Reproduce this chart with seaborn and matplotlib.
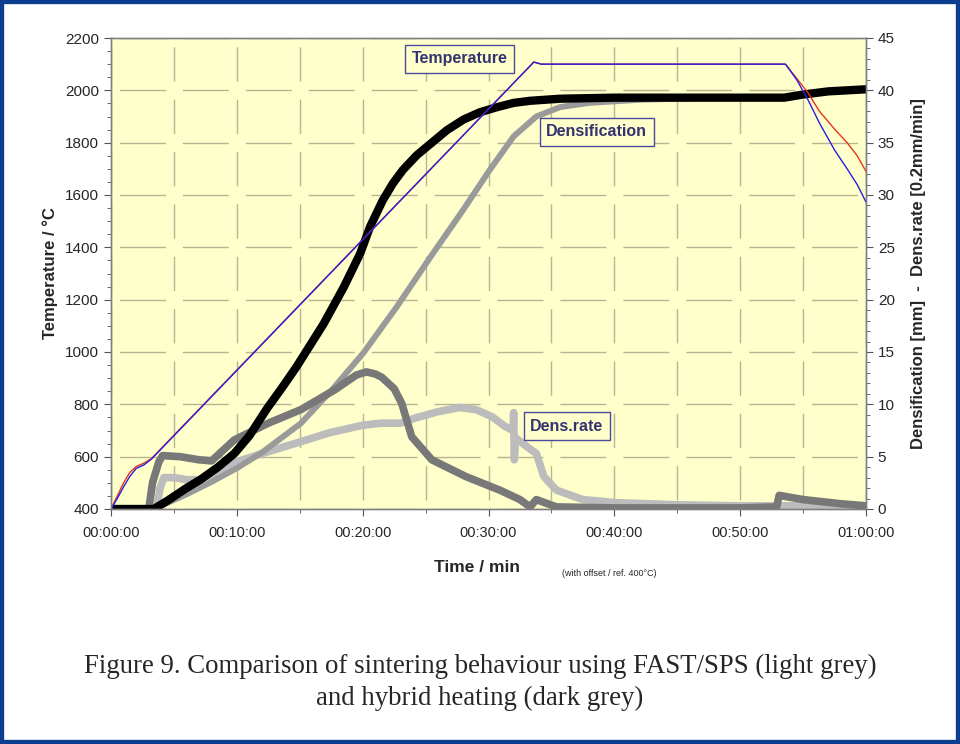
import numpy as np
import matplotlib
matplotlib.use("Agg")
from matplotlib import pyplot as plt
from matplotlib.patches import Rectangle
from matplotlib.ticker import MultipleLocator
import seaborn as sns

# time in minutes (with offset / ref. 400 C)
t_temp = [0, 0.5, 1, 1.5, 2, 2.6, 3.2, 33.6, 34.2, 53.6, 54.5, 55.4, 56.3, 57.5, 58.5, 59.3, 60]
temp_hybrid = [400, 440, 485, 525, 555, 568, 590, 2108, 2100, 2100, 2040, 1963, 1875, 1772, 1700, 1640, 1573]
temp_fast = [400, 450, 500, 540, 562, 575, 592, 2108, 2100, 2100, 2045, 1990, 1920, 1852, 1800, 1750, 1690]

# densification [mm]
t_dens_hybrid = [0, 3.4, 4.5, 6, 7.1, 8.5, 9.8, 11, 12.4, 13.6, 14.75, 15.8, 16.9, 18.5, 19.8, 20.6,
                 21.6, 22.4, 23.2, 24.3, 25.4, 26.7, 28.0, 29.3, 30.7, 32, 33.3, 35.7, 40, 45, 50,
                 53.5, 55, 57, 60]
dens_hybrid = [0, 0, 0.8, 2.0, 2.8, 4.0, 5.3, 7.0, 9.6, 11.6, 13.6, 15.6, 17.7, 21.2, 24.4, 27.0,
               29.5, 31.1, 32.4, 33.8, 34.9, 36.2, 37.2, 37.9, 38.4, 38.8, 39.0, 39.2, 39.3, 39.3, 39.3,
               39.3, 39.6, 39.9, 40.1]
t_dens_fast = [0, 3.5, 4.5, 6, 8, 10, 12, 15.1, 17.5, 20.05, 22.7, 25.4, 28.0, 30.1, 32.0, 33.8,
               35.7, 38, 42, 48, 53.5, 55, 57, 60]
dens_fast = [0, 0, 0.6, 1.4, 2.6, 3.9, 5.4, 8.2, 11.3, 14.9, 19.3, 24.1, 28.6, 32.4, 35.6, 37.5,
             38.4, 38.8, 39.1, 39.3, 39.3, 39.6, 39.9, 40.1]

# densification rate [0.2mm/min]
t_rate_hybrid = [0, 3.0, 3.3, 3.8, 4.1, 5.5, 7.0, 8.0, 9.8, 12.5, 15.1, 17.8, 19.5, 20.3, 21.0, 21.5,
                 22.5, 23.1, 23.9, 25.5, 28.2, 30.9, 32.5, 33.3, 33.8, 35.4, 40, 45, 50, 52.9, 53.1,
                 55, 58, 60]
rate_hybrid = [0, 0, 2.5, 4.5, 5.1, 5.0, 4.7, 4.6, 6.6, 8.2, 9.5, 11.4, 12.8, 13.1, 12.9, 12.6,
               11.5, 10.1, 6.9, 4.7, 3.1, 1.8, 0.9, 0.2, 0.9, 0.2, 0.1, 0.1, 0.1, 0.2, 1.3,
               0.9, 0.5, 0.3]
t_rate_fast = [0, 3.6, 3.9, 4.2, 5, 6, 7.1, 8.5, 9.7, 12, 15, 17.4, 20, 21.5, 23, 24.2, 26, 27.7,
               29, 30.3, 31.3, 31.95, 32.0, 32.05, 32.15, 33, 33.8, 34.4, 35.4, 37.5, 40.2, 45, 50, 60]
rate_fast = [0, 0, 2.0, 3.0, 3.0, 2.8, 2.8, 3.6, 4.4, 5.3, 6.4, 7.3, 8.0, 8.2, 8.2, 8.7, 9.3, 9.7,
             9.5, 8.8, 7.9, 7.5, 9.2, 4.7, 6.8, 6.0, 5.3, 3.1, 1.8, 0.9, 0.6, 0.4, 0.3, 0.3]

x_ticks = [0, 10, 20, 30, 40, 50, 60]
x_ticklabels = ["00:00:00", "00:10:00", "00:20:00", "00:30:00", "00:40:00", "00:50:00", "01:00:00"]

sns.set_style("white")
plt.rcParams['font.family'] = ['Liberation Sans', 'DejaVu Sans']

fig = plt.figure(figsize=(9.6, 7.44), dpi=100)
ax = fig.add_axes([111 / 960, 1 - 509 / 744, 755 / 960, 471 / 744])
ax2 = ax.twinx()

# right axes sits below and carries the yellow background + grid
ax.set_zorder(2)
ax.patch.set_visible(False)
ax2.set_zorder(1)
ax2.patch.set_visible(True)
ax2.patch.set_facecolor('#ffffcc')

# rates and densification (right axis)
sns.lineplot(x=t_rate_fast, y=rate_fast, ax=ax2, color='#bcbcbc', linewidth=5.5, legend=False)
sns.lineplot(x=t_dens_fast, y=dens_fast, ax=ax2, color='#9a9a9a', linewidth=4.3, legend=False)
sns.lineplot(x=t_rate_hybrid, y=rate_hybrid, ax=ax2, color='#787878', linewidth=5.5, legend=False)
sns.lineplot(x=t_dens_hybrid, y=dens_hybrid, ax=ax2, color='black', linewidth=6, legend=False)

# temperatures (left axis)
sns.lineplot(x=t_temp, y=temp_fast, ax=ax, color='#e8321e', linewidth=1, legend=False)
sns.lineplot(x=t_temp, y=temp_hybrid, ax=ax, color='#2a1ee0', linewidth=1, legend=False)

ax.set_xlim(0, 60)
ax.set_ylim(400, 2200)
ax2.set_ylim(0, 45)

ax.xaxis.set_major_locator(MultipleLocator(10))
ax.xaxis.set_minor_locator(MultipleLocator(5))
ax.set_xticks(x_ticks)
ax.set_xticklabels(x_ticklabels)
ax.yaxis.set_major_locator(MultipleLocator(200))
ax.yaxis.set_minor_locator(MultipleLocator(50))
ax2.yaxis.set_major_locator(MultipleLocator(5))
ax2.yaxis.set_minor_locator(MultipleLocator(1))

# dashed grid, gaps at the crossings
grid_col = '#bab391'
ax2.xaxis.set_visible(True)
ax2.tick_params(axis='x', which='both', bottom=False, top=False, labelbottom=False, labeltop=False)
ax2.grid(True, axis='y', which='major', color=grid_col, linewidth=1, linestyle=(39.2, (33.1, 12.2)))
ax2.grid(True, axis='x', which='minor', color=grid_col, linewidth=1, linestyle=(31.2, (24.7, 13.0)))
ax2.grid(True, axis='x', which='major', color=grid_col, linewidth=1, linestyle=(31.2, (24.7, 13.0)))
ax.grid(False)

for a in (ax, ax2):
    for s in a.spines.values():
        s.set_color('#808080')
        s.set_linewidth(1)

ax.tick_params(axis='y', which='major', direction='out', length=5, color='#555555', labelsize=11, left=True)
ax.tick_params(axis='y', which='minor', direction='out', length=3, color='#555555', left=True)
ax.tick_params(axis='x', which='major', direction='out', length=5, color='#555555', labelsize=10.5,
               bottom=True, pad=7)
ax.tick_params(axis='x', which='minor', direction='out', length=3, color='#555555', bottom=True)
ax2.tick_params(axis='y', which='major', direction='out', length=5, color='#555555', labelsize=11, right=True)
ax2.tick_params(axis='y', which='minor', direction='out', length=3, color='#555555', right=True)

ax.set_ylabel('Temperature / °C', fontsize=12, fontweight='bold', labelpad=5)
ax2.set_ylabel('Densification [mm]  -  Dens.rate [0.2mm/min]', fontsize=12, fontweight='bold', labelpad=12)
ax.set_xlabel('Time / min', fontsize=12.5, fontweight='bold')
ax.xaxis.set_label_coords(0.485, -0.108)
fig.text(562 / 960, 1 - 573 / 744, '(with offset / ref. 400°C)', fontsize=6.5, va='center')

# boxed labels
box = dict(boxstyle='square,pad=0.4', facecolor='#ffffcc', edgecolor='#4a4a9a', linewidth=1)
lab = dict(fontsize=11.5, fontweight='bold', color='#333370', ha='center', va='center', bbox=box, zorder=5)
ax.text(27.7, 2120, 'Temperature', **lab)
ax.text(38.6, 1841, 'Densification', **lab)
ax.text(36.2, 717, 'Dens.rate', **lab)

fig.text(0.5, 1 - 682 / 744,
         'Figure 9. Comparison of sintering behaviour using FAST/SPS (light grey)\nand hybrid heating (dark grey)',
         ha='center', va='center', fontsize=19.3, family='Liberation Serif', linespacing=1.36)

fig.patches.append(Rectangle((0, 0), 1, 1, transform=fig.transFigure, fill=False,
                             edgecolor='#0c3d8e', linewidth=6, zorder=10))

fig.savefig('out.png', dpi=100)
